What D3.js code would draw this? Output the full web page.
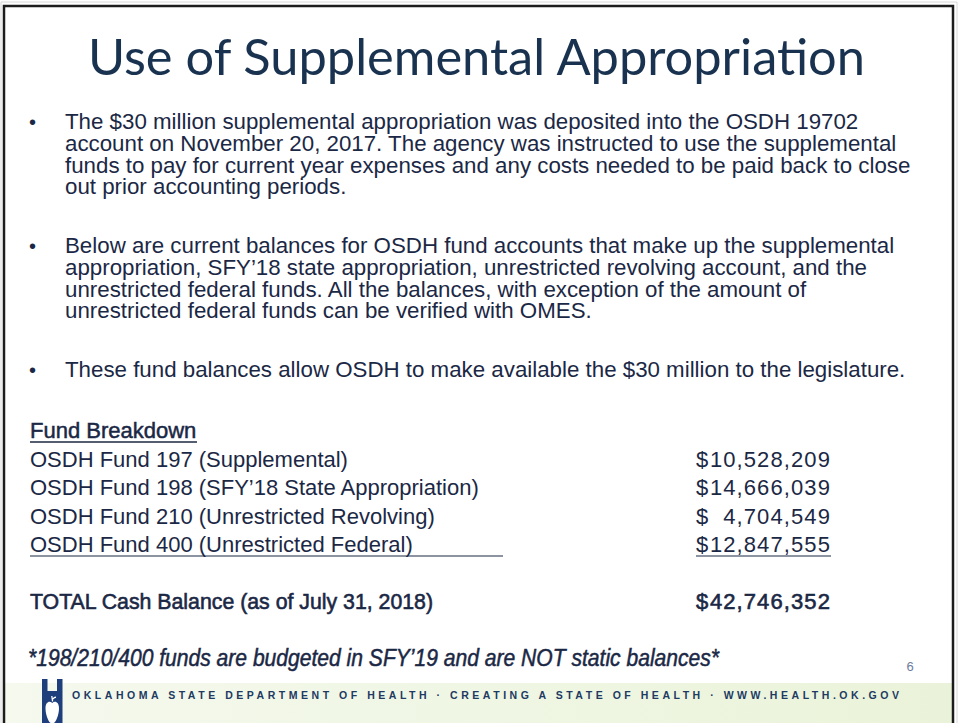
<!DOCTYPE html>
<html>
<head>
<meta charset="utf-8">
<script src="https://cdnjs.cloudflare.com/ajax/libs/d3/7.8.5/d3.min.js"></script>
<style>
  body { margin: 0; background: #fff; }
  svg { display: block; }
</style>
</head>
<body>
<script>
    let titleText = "Use of Supplemental Appropriation";

    let bullets = [
      ["The $30 million supplemental appropriation was deposited into the OSDH 19702",
       "account on November 20, 2017. The agency was instructed to use the supplemental",
       "funds to pay for current year expenses and any costs needed to be paid back to close",
       "out prior accounting periods."],
      ["Below are current balances for OSDH fund accounts that make up the supplemental",
       "appropriation, SFY\u201918 state appropriation, unrestricted revolving account, and the",
       "unrestricted federal funds. All the balances, with exception of the amount of",
       "unrestricted federal funds can be verified with OMES."],
      ["These fund balances allow OSDH to make available the $30 million to the legislature."]
    ];

    let tableHeader = "Fund Breakdown";
    let fundNames = [
      "OSDH Fund 197 (Supplemental)",
      "OSDH Fund 198 (SFY\u201918 State Appropriation)",
      "OSDH Fund 210 (Unrestricted Revolving)",
      "OSDH Fund 400 (Unrestricted Federal)"
    ];
    let fundAmounts = [10528209, 14666039, 4704549, 12847555];
    let totalLabel = "TOTAL Cash Balance (as of July 31, 2018)";
    let totalAmount = 42746352;
    let footnote = "*198/210/400 funds are budgeted in SFY\u201919 and are NOT static balances*";
    let pageNumber = "6";
    let footerText = "OKLAHOMA STATE DEPARTMENT OF HEALTH \u00b7 CREATING A STATE OF HEALTH \u00b7 WWW.HEALTH.OK.GOV";

    let width = 959, height = 723;
    let navy = "#1b2845", titleColor = "#18324f";
    let bodyFont = "'Liberation Sans', Arial, sans-serif";
    let money = d3.format(",");

    const svg = d3.select("body")
      .append("svg")
      .attr("width", width)
      .attr("height", height);

    // footer band
    let grad = svg.append("defs").append("linearGradient")
      .attr("id", "band")
      .attr("x1", "0").attr("x2", "1").attr("y1", "0").attr("y2", "0");
    grad.append("stop").attr("offset", "0").attr("stop-color", "#f5f9ee");
    grad.append("stop").attr("offset", "1").attr("stop-color", "#eaf3d9");

    svg.append("rect")
      .attr("x", 5).attr("y", 683)
      .attr("width", 947).attr("height", 40)
      .attr("fill", "url(#band)");

    // slide frame
    svg.append("path")
      .attr("d", "M4,723V6H953V723")
      .attr("fill", "none")
      .attr("stroke", "#1c1c1c")
      .attr("stroke-width", 2.5);
    svg.append("path")
      .attr("d", "M1,723V2H957V723")
      .attr("fill", "none")
      .attr("stroke", "#d8d8d8")
      .attr("stroke-width", 1);

    // title
    svg.append("text")
      .text(titleText)
      .attr("x", 88)
      .attr("y", 75)
      .attr("textLength", 777)
      .attr("lengthAdjust", "spacingAndGlyphs")
      .style("font-family", "Lato, 'Open Sans', sans-serif")
      .style("font-size", "50px")
      .attr("fill", titleColor);

    // bullets
    let lineStep = 21.8, paraStep = 58.6;
    let lines = [];
    let y = 129;
    bullets.forEach((b) => {
      b.forEach((t, j) => {
        lines.push({text: t, bullet: j === 0, y: y + j * lineStep});
      });
      y += (b.length - 1) * lineStep + paraStep;
    });

    let body = svg.append("g").attr("class", "bullets");

    body.selectAll("text.line")
      .data(lines)
      .enter()
      .append("text")
      .attr("class", "line")
      .attr("x", 65)
      .attr("y", (d) => d.y)
      .text((d) => d.text)
      .style("font-family", bodyFont)
      .style("font-size", "22.3px")
      .attr("fill", navy);

    body.selectAll("text.dot")
      .data(lines.filter((d) => d.bullet))
      .enter()
      .append("text")
      .attr("class", "dot")
      .attr("x", 29)
      .attr("y", (d) => d.y)
      .text("\u2022")
      .style("font-family", bodyFont)
      .style("font-size", "20px")
      .attr("fill", navy);

    // fund table
    let rowY = d3.scaleLinear().domain([0, 1]).range([438, 466.5]);
    let labelX = 30, dollarX = 696, amountX = 831;

    let table = svg.append("g").attr("class", "table")
      .style("font-family", bodyFont)
      .style("font-size", "22px")
      .attr("fill", navy);

    table.append("text")
      .text(tableHeader)
      .attr("x", labelX)
      .attr("y", rowY(0))
      .attr("stroke", navy)
      .attr("stroke-width", 0.5);

    table.append("line")
      .attr("x1", labelX).attr("x2", 197)
      .attr("y1", rowY(0) + 4).attr("y2", rowY(0) + 4)
      .attr("stroke", navy).attr("stroke-width", 1.3);

    let rows = table.selectAll("g.row")
      .data(fundNames.map((n, i) => ({name: n, amount: fundAmounts[i], k: i + 1})))
      .enter()
      .append("g")
      .attr("class", "row");

    rows.append("text")
      .attr("x", labelX)
      .attr("y", (d) => rowY(d.k))
      .text((d) => d.name);

    rows.append("text")
      .attr("x", dollarX)
      .attr("y", (d) => rowY(d.k))
      .text("$");

    rows.append("text")
      .attr("x", amountX)
      .attr("y", (d) => rowY(d.k))
      .attr("text-anchor", "end")
      .style("letter-spacing", "1.1px")
      .text((d) => money(d.amount));

    let lastY = rowY(fundNames.length) + 4;
    table.append("line")
      .attr("x1", labelX).attr("x2", 503)
      .attr("y1", lastY).attr("y2", lastY)
      .attr("stroke", navy).attr("stroke-width", 1.2);
    table.append("line")
      .attr("x1", dollarX).attr("x2", amountX)
      .attr("y1", lastY).attr("y2", lastY)
      .attr("stroke", navy).attr("stroke-width", 1.2);

    let totalY = rowY(fundNames.length + 2);
    table.append("text")
      .text(totalLabel)
      .attr("x", labelX)
      .attr("y", totalY)
      .attr("textLength", 403)
      .attr("lengthAdjust", "spacingAndGlyphs")
      .attr("stroke", navy)
      .attr("stroke-width", 0.6);

    table.append("text")
      .text("$")
      .attr("x", dollarX)
      .attr("y", totalY)
      .attr("stroke", navy)
      .attr("stroke-width", 0.6);

    table.append("text")
      .text(money(totalAmount))
      .attr("x", amountX)
      .attr("y", totalY)
      .attr("text-anchor", "end")
      .style("letter-spacing", "1.1px")
      .attr("stroke", navy)
      .attr("stroke-width", 0.6);

    // footnote
    svg.append("text")
      .text(footnote)
      .attr("x", 28)
      .attr("y", rowY(fundNames.length + 4))
      .attr("textLength", 691)
      .attr("lengthAdjust", "spacingAndGlyphs")
      .style("font-family", "'Liberation Sans Narrow', 'Liberation Sans', sans-serif")
      .style("font-style", "italic")
      .style("font-size", "23px")
      .attr("fill", navy)
      .attr("stroke", navy)
      .attr("stroke-width", 0.5);

    svg.append("text")
      .text(pageNumber)
      .attr("x", 910)
      .attr("y", 671)
      .attr("text-anchor", "middle")
      .style("font-family", bodyFont)
      .style("font-size", "13px")
      .attr("fill", "#6a7d9c");

    // footer logo: H with an apple
    let logo = svg.append("g")
      .attr("transform", "translate(42,679)");
    logo.append("path")
      .attr("d", "M0,0H5.5V44H0Z M15,0H20.5V44H15Z M5.5,12H15V44H5.5Z")
      .attr("fill", "#1e3f7c");
    logo.append("path")
      .attr("d", "M10.25,24C7.5,21.5 3.5,23 3.5,29.5C3.5,36 7,44 9,44H11.5C13.5,44 17,36 17,29.5C17,23 13,21.5 10.25,24Z")
      .attr("fill", "#fff");
    logo.append("path")
      .attr("d", "M9.8,17L10.6,22.5 M11,20C12.5,18 14,18.3 14,18.3")
      .attr("fill", "none")
      .attr("stroke", "#fff")
      .attr("stroke-width", 1.3);

    svg.append("text")
      .text(footerText)
      .attr("x", 72)
      .attr("y", 699)
      .attr("textLength", 827)
      .attr("lengthAdjust", "spacing")
      .style("font-family", bodyFont)
      .style("font-weight", "bold")
      .style("font-size", "10.5px")
      .attr("fill", "#203a62");
</script>
</body>
</html>
